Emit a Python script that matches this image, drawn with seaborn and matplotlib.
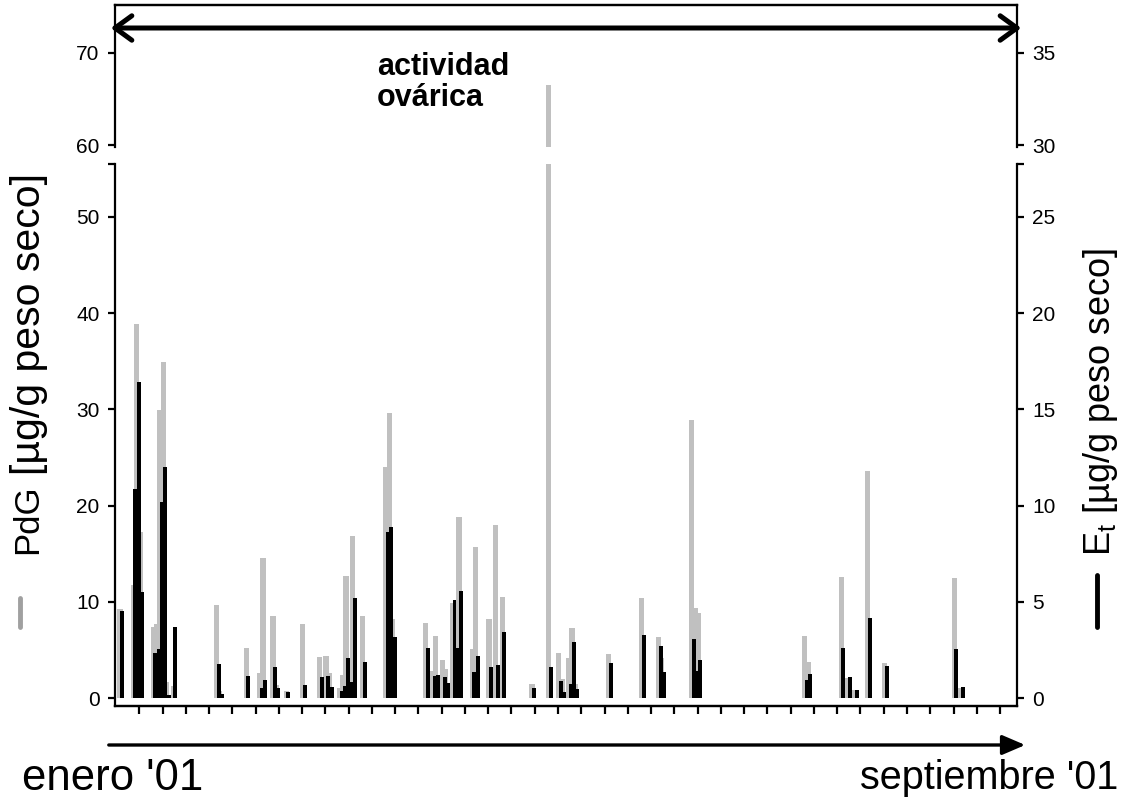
import numpy as np
import matplotlib
matplotlib.use("Agg")
import matplotlib.pyplot as plt
from matplotlib.lines import Line2D
from matplotlib.patches import FancyArrowPatch
import seaborn as sns

# sampling day (days since 1 Jan 2001)
days = [1, 5, 6, 7, 11, 12, 13, 14, 15, 17, 30, 31, 39, 43, 44, 47, 48, 51, 56,
        61, 63, 64, 67, 68, 69, 70, 71, 74, 81, 82, 83, 93, 95, 96, 98, 99, 101,
        102, 103, 107, 108, 112, 114, 116, 125, 130, 133, 134, 136, 137, 138,
        148, 158, 163, 164, 173, 174, 175, 207, 208, 218, 220, 222, 226, 231,
        252, 254]
# PdG [ug/g peso seco] (grey)
pdg = [9.3, 11.7, 38.9, 17.3, 7.4, 7.7, 29.9, 34.9, 1.7, 1.2, 9.7, 0.7, 5.2,
       2.6, 14.5, 8.5, 1.35, 0.7, 7.7, 4.3, 4.4, 2.6, 1.0, 2.4, 12.7, 1.5, 16.8,
       8.5, 24.0, 29.6, 8.2, 7.8, 2.8, 6.4, 3.95, 3.0, 9.9, 5.5, 18.85, 5.1,
       15.7, 8.2, 18.0, 10.5, 1.45, 66.5, 4.65, 2.0, 4.2, 7.3, 1.45, 4.6, 10.4,
       6.3, 4.2, 28.9, 9.35, 8.8, 6.4, 3.7, 12.6, 2.1, 0.8, 23.6, 3.6, 12.5, 1.0]
# Et [ug/g peso seco] (black)
et = [4.5, 10.85, 16.4, 5.5, 2.35, 2.55, 10.2, 12.0, 0.15, 3.7, 1.75, 0.2, 1.15,
      0.5, 0.95, 1.6, 0.5, 0.3, 0.7, 1.1, 1.15, 0.55, 0.35, 0.6, 2.1, 0.85, 5.2,
      1.85, 8.65, 8.9, 3.15, 2.6, 1.15, 1.2, 1.1, 0.8, 5.1, 2.6, 5.55, 1.35,
      2.2, 1.6, 1.7, 3.45, 0.52, 1.6, 0.87, 0.33, 0.73, 2.9, 0.45, 1.8, 3.28,
      2.7, 1.35, 3.07, 1.42, 1.97, 0.95, 1.25, 2.6, 1.1, 0.4, 4.15, 1.68, 2.55,
      0.57]

left_ticks_lo = [0, 10, 20, 30, 40, 50]
left_ticks_up = [60, 70]
right_ticks_lo = [0, 5, 10, 15, 20, 25]
right_ticks_up = [30, 35]

sns.set_style("ticks")
plt.rcParams["font.family"] = ["Liberation Sans", "DejaVu Sans"]
plt.rcParams["text.color"] = "black"
plt.rcParams["axes.labelcolor"] = "black"

GREY = "#c0c0c0"
W, H = 1123, 800
fig = plt.figure(figsize=(W / 100, H / 100), dpi=100)

def fx(px):
    return px / W

def fy(py):
    return 1 - py / H

ax_up = fig.add_axes([fx(115), fy(147), fx(902), 142 / H])
ax_lo = fig.add_axes([fx(115), fy(706), fx(902), (706 - 164) / H])
ax_up_r = ax_up.twinx()
ax_lo_r = ax_lo.twinx()

x = np.array(days, dtype=float)
gw = 1.6 / np.diff(np.unique(x)).min()
bw = 1.2 / np.diff(np.unique(x)).min()

for ax in (ax_up, ax_lo):
    sns.barplot(x=x + 0.2, y=pdg, native_scale=True, color=GREY, saturation=1,
                width=gw, errorbar=None, linewidth=0, ax=ax)
sns.barplot(x=x + 0.85, y=et, native_scale=True, color="black", saturation=1,
            width=bw, errorbar=None, linewidth=0, ax=ax_lo_r)

lo_lim = (-0.83, 55.5)
up_lim = (59.8, 75.2)
ax_lo.set_ylim(lo_lim)
ax_lo_r.set_ylim(lo_lim[0] / 2, lo_lim[1] / 2)
ax_up.set_ylim(up_lim)
ax_up_r.set_ylim(up_lim[0] / 2, up_lim[1] / 2)

for ax in (ax_up, ax_lo, ax_up_r, ax_lo_r):
    ax.set_xlim(-0.3, 271.1)
    ax.set_xlabel("")
    ax.set_ylabel("")
    for s in ax.spines.values():
        s.set_linewidth(1.6)
        s.set_color("black")
    ax.tick_params(width=1.6, length=5, labelsize=15, colors="black",
                   labelcolor="black", pad=6)

ax_lo.set_yticks(left_ticks_lo + [lo_lim[1]], [str(t) for t in left_ticks_lo] + [""])
ax_lo_r.set_yticks(right_ticks_lo + [lo_lim[1] / 2], [str(t) for t in right_ticks_lo] + [""])
ax_up.set_yticks(left_ticks_up, [str(t) for t in left_ticks_up])
ax_up_r.set_yticks(right_ticks_up, [str(t) for t in right_ticks_up])

xt = np.arange(7, 271, 7)
ax_lo.set_xticks(xt, [""] * len(xt))
ax_lo.tick_params(axis="x", length=6)
for ax in (ax_up, ax_up_r, ax_lo_r):
    ax.tick_params(axis="x", bottom=False, labelbottom=False)

ax_lo.spines["top"].set_visible(False)
ax_lo.spines["right"].set_visible(False)
ax_lo_r.spines["top"].set_visible(False)
ax_lo_r.spines["left"].set_visible(False)
ax_up.spines["bottom"].set_visible(False)
ax_up.spines["right"].set_visible(False)
ax_up_r.spines["bottom"].set_visible(False)
ax_up_r.spines["left"].set_visible(False)

# activity arrow and text
fig.add_artist(FancyArrowPatch(
    (fx(108), fy(28)), (fx(1024), fy(28)), transform=fig.transFigure,
    arrowstyle="<->,head_length=0.55,head_width=0.4", mutation_scale=22,
    lw=3.6, color="black"))
fig.text(fx(377), fy(52), "actividad\novárica", fontsize=22, fontweight="bold",
         ha="left", va="top", linespacing=1.05)

# time arrow
fig.add_artist(FancyArrowPatch(
    (fx(106), fy(745)), (fx(1028), fy(745)), transform=fig.transFigure,
    arrowstyle="-|>,head_length=0.7,head_width=0.3", mutation_scale=20,
    lw=2.4, color="black"))
fig.text(fx(22), fy(778), "enero '01", fontsize=31.5, ha="left", va="center")
fig.text(fx(1118), fy(778), "septiembre '01", fontsize=28.5, ha="right", va="center")

# axis titles with series markers
fig.text(fx(28), fy(519), "PdG", fontsize=25, rotation=90, ha="center", va="center")
fig.text(fx(29), fy(324), "[µg/g peso seco]", fontsize=29.5, rotation=90,
         ha="center", va="center")
fig.add_artist(Line2D([fx(20), fx(20)], [fy(598), fy(627)], color="#a0a0a0", lw=3.5))
fig.text(fx(1100), fy(402), r"E$_\mathregular{t}$ [µg/g peso seco]", fontsize=26,
         rotation=90, ha="center", va="center")
fig.add_artist(Line2D([fx(1097), fx(1097)], [fy(575), fy(627)], color="black", lw=3.5))

fig.savefig("out.png", dpi=100)
